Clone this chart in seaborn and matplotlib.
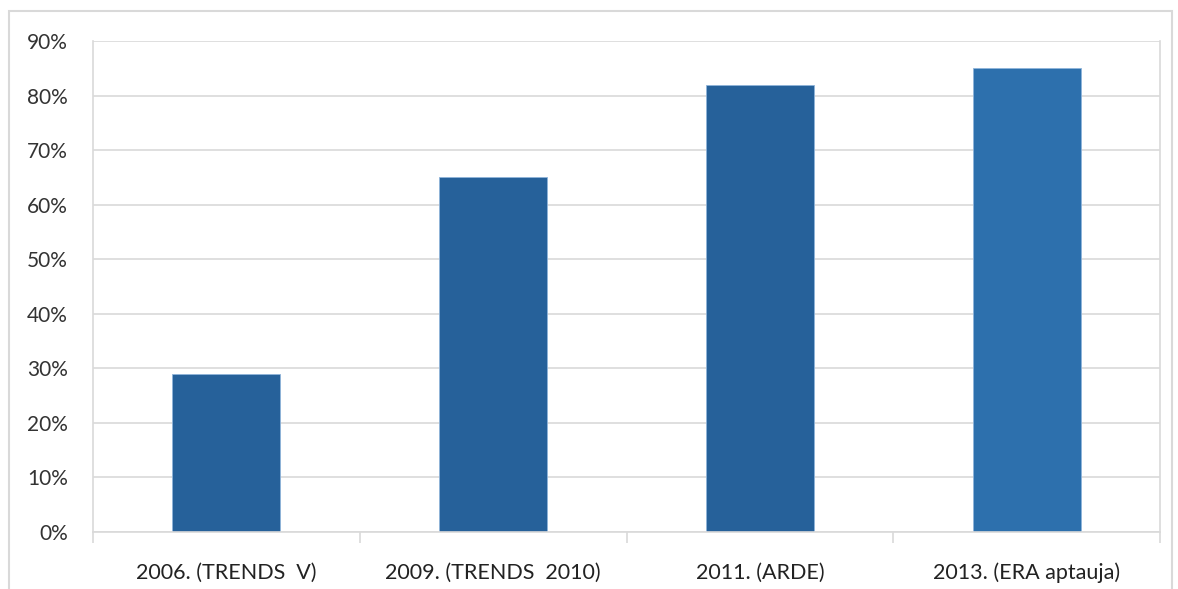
import matplotlib
matplotlib.use("Agg")
import matplotlib.pyplot as plt
import seaborn as sns
import pandas as pd
from matplotlib.patches import Rectangle
from matplotlib.ticker import FuncFormatter, FixedLocator

categories = ["2006. (TRENDS  V)", "2009. (TRENDS  2010)", "2011. (ARDE)", "2013. (ERA aptauja)"]
values = [29, 65, 82, 85]
bar_colors = ["#26619A", "#26619A", "#26619A", "#2D70AD"]
y_ticks = [0, 10, 20, 30, 40, 50, 60, 70, 80, 90]

sns.set_theme(style="white")
plt.rcParams["font.family"] = ["Lato", "DejaVu Sans"]

df = pd.DataFrame({"cat": categories, "val": values})

fig = plt.figure(figsize=(11.78, 5.89), dpi=100)
ax = fig.add_axes([93/1178, 1 - 532/589, (1160 - 93)/1178, (532 - 41)/589])

sns.barplot(data=df, x="cat", y="val", hue="cat", palette=bar_colors,
            width=0.405, legend=False, ax=ax, saturation=1,
            edgecolor="#8FB4DA", linewidth=0.6)

ax.set_xlim(-0.5, len(categories) - 0.5)
ax.set_ylim(0, 90)
ax.set_yticks(y_ticks)
ax.yaxis.set_major_formatter(FuncFormatter(lambda v, p: f"{int(v)}%"))
ax.set_xlabel("")
ax.set_ylabel("")

grid_c = "#D9D9D9"
ax.yaxis.grid(True, color=grid_c, linewidth=1.2)
ax.set_axisbelow(True)
ax.spines["top"].set_visible(False)
for s in ["left", "right", "bottom"]:
    ax.spines[s].set_color(grid_c)
    ax.spines[s].set_linewidth(1.2)

ax.tick_params(axis="y", length=0, labelsize=15, labelcolor="#333333", pad=18)
ax.tick_params(axis="x", which="major", length=0, labelsize=15.5, labelcolor="#222222", pad=22)
ax.xaxis.set_minor_locator(FixedLocator([i - 0.5 for i in range(len(categories) + 1)]))
ax.tick_params(axis="x", which="minor", length=8, width=1.2, color=grid_c, bottom=True)

fig.patches.append(Rectangle((9/1178, -0.05), (1172 - 9)/1178, 1 - 11/589 + 0.05,
                             transform=fig.transFigure, fill=False,
                             edgecolor="#D9D9D9", linewidth=1.5))

fig.savefig("out.png", dpi=100)
